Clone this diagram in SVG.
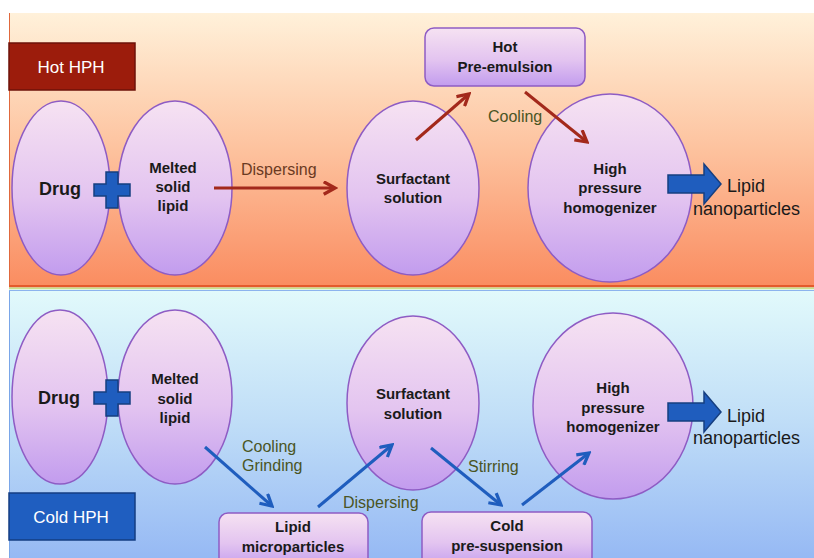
<svg xmlns="http://www.w3.org/2000/svg" width="814" height="558" viewBox="0 0 814 558">
<defs>
<linearGradient id="hotBg" x1="0" y1="0" x2="0" y2="1">
<stop offset="0" stop-color="#FFF1DA"/>
<stop offset="0.5" stop-color="#FDC29E"/>
<stop offset="1" stop-color="#FA8C60"/>
</linearGradient>
<linearGradient id="coldBg" x1="0" y1="0" x2="0" y2="1">
<stop offset="0" stop-color="#E2FAFB"/>
<stop offset="0.5" stop-color="#BFDDF7"/>
<stop offset="1" stop-color="#96B9F4"/>
</linearGradient>
<linearGradient id="nodeFill" x1="0" y1="0" x2="0" y2="1">
<stop offset="0" stop-color="#F6E2F2"/>
<stop offset="0.55" stop-color="#E3C4F0"/>
<stop offset="1" stop-color="#C29CEE"/>
</linearGradient>
<marker id="redHead" viewBox="0 0 12 12" refX="10" refY="6" markerWidth="5" markerHeight="5" orient="auto" markerUnits="strokeWidth">
<path d="M1,1 L10,6 L1,11" fill="none" stroke="#A3291B" stroke-width="2.6" stroke-linejoin="miter"/>
</marker>
<marker id="blueHead" viewBox="0 0 12 12" refX="10" refY="6" markerWidth="5" markerHeight="5" orient="auto" markerUnits="strokeWidth">
<path d="M1,1 L10,6 L1,11" fill="none" stroke="#1F5DBE" stroke-width="2.6" stroke-linejoin="miter"/>
</marker>
<path id="plusShape" d="M-6,-18 H6 V-6 H18 V6 H6 V18 H-6 V6 H-18 V-6 H-6 Z"/>
<path id="blockArrow" d="M0,-9 H36 V-20 L53,0 L36,20 V9 H0 Z"/>
</defs>
<style>
.node{fill:url(#nodeFill);stroke:#8E5CC4;stroke-width:1.5}
.nt{font-family:"Liberation Sans",Arial,sans-serif;font-weight:bold;font-size:15px;fill:#1A1A1A;text-anchor:middle}
.big{font-size:18px}
.el{font-family:"Liberation Sans",Arial,sans-serif;font-size:16px;fill:#4A5524}
.elh{fill:#6B3A22}
.red{stroke:#A3291B;stroke-width:3;fill:none;marker-end:url(#redHead)}
.blue{stroke:#1F5DBE;stroke-width:3;fill:none;marker-end:url(#blueHead)}
.plus{fill:#1F5DBE;stroke:#163F80;stroke-width:1.5}
.barrow{fill:#1F5DBE;stroke:#163F80;stroke-width:1.5}
.out{font-family:"Liberation Sans",Arial,sans-serif;font-size:18px;fill:#1A1A1A}
.tag{font-family:"Liberation Sans",Arial,sans-serif;font-size:17px;fill:#FFFFFF}
</style>
<rect x="0" y="0" width="814" height="558" fill="#FFFFFF"/>
<g id="panel-hot">
<rect x="9" y="13" width="805" height="274" fill="url(#hotBg)"/>
<line x1="9.5" y1="13" x2="9.5" y2="287" stroke="#E0683C" stroke-width="1"/>
<rect x="9" y="285" width="805" height="2.5" fill="#E45A2C"/>
<rect x="9" y="287.5" width="805" height="2" fill="#C9E08A"/>
</g>
<g id="panel-cold">
<rect x="9" y="289.5" width="805" height="268.5" fill="url(#coldBg)"/>
<line x1="9.5" y1="290" x2="9.5" y2="558" stroke="#7AA6E8" stroke-width="1"/>
<line x1="9" y1="290.5" x2="814" y2="290.5" stroke="#8CB4EE" stroke-width="1"/>
</g>
<g id="label-hot">
<rect x="9" y="43" width="126" height="47" fill="#9C1C0C" stroke="#6E1208" stroke-width="1.5"/>
<text class="tag" x="71" y="73" text-anchor="middle">Hot HPH</text>
</g>
<g id="label-cold">
<rect x="9" y="493" width="126" height="47" fill="#1F5EC0" stroke="#143E82" stroke-width="1.5"/>
<text class="tag" x="71" y="523" text-anchor="middle">Cold HPH</text>
</g>
<g id="hot-drug">
<ellipse class="node" cx="61" cy="188" rx="49" ry="87"/>
<text class="nt big" x="60" y="195">Drug</text>
</g>
<g id="hot-lipid">
<ellipse class="node" cx="175" cy="188" rx="57" ry="87"/>
<text class="nt" x="173" y="173">Melted</text>
<text class="nt" x="173" y="192">solid</text>
<text class="nt" x="173" y="211">lipid</text>
</g>
<g id="hot-plus">
<use href="#plusShape" class="plus" x="112" y="190"/>
</g>
<g id="hot-surfactant">
<ellipse class="node" cx="413" cy="188" rx="66" ry="87"/>
<text class="nt" x="413" y="184">Surfactant</text>
<text class="nt" x="413" y="203">solution</text>
</g>
<g id="hot-preemulsion">
<rect class="node" x="425" y="28" width="160" height="58" rx="9"/>
<text class="nt" x="505" y="52">Hot</text>
<text class="nt" x="505" y="72">Pre-emulsion</text>
</g>
<g id="hot-hph">
<ellipse class="node" cx="610" cy="188" rx="82" ry="94"/>
<text class="nt" x="610" y="174">High</text>
<text class="nt" x="610" y="193">pressure</text>
<text class="nt" x="610" y="213">homogenizer</text>
</g>
<g id="hot-output">
<use href="#blockArrow" class="barrow" x="668" y="184"/>
<text class="out" x="727" y="192">Lipid</text>
<text class="out" x="693" y="215">nanoparticles</text>
</g>
<g id="cold-drug">
<ellipse class="node" cx="60" cy="397" rx="48" ry="87"/>
<text class="nt big" x="59" y="404">Drug</text>
</g>
<g id="cold-lipid">
<ellipse class="node" cx="175" cy="397" rx="57" ry="87"/>
<text class="nt" x="175" y="384">Melted</text>
<text class="nt" x="175" y="404">solid</text>
<text class="nt" x="175" y="423">lipid</text>
</g>
<g id="cold-plus">
<use href="#plusShape" class="plus" x="112" y="398"/>
</g>
<g id="cold-microparticles">
<rect class="node" x="219" y="513" width="149" height="55" rx="9"/>
<text class="nt" x="293" y="532">Lipid</text>
<text class="nt" x="293" y="552">microparticles</text>
</g>
<g id="cold-surfactant">
<ellipse class="node" cx="413" cy="403" rx="66" ry="87"/>
<text class="nt" x="413" y="399">Surfactant</text>
<text class="nt" x="413" y="419">solution</text>
</g>
<g id="cold-presuspension">
<rect class="node" x="422" y="512" width="170" height="56" rx="9"/>
<text class="nt" x="507" y="531">Cold</text>
<text class="nt" x="507" y="551">pre-suspension</text>
</g>
<g id="cold-hph">
<ellipse class="node" cx="613" cy="406" rx="80" ry="93"/>
<text class="nt" x="613" y="393">High</text>
<text class="nt" x="613" y="413">pressure</text>
<text class="nt" x="613" y="432">homogenizer</text>
</g>
<g id="cold-output">
<use href="#blockArrow" class="barrow" x="668" y="412"/>
<text class="out" x="727" y="422">Lipid</text>
<text class="out" x="693" y="444">nanoparticles</text>
</g>
<g id="connectors">
<line class="red" x1="214" y1="188" x2="335" y2="188"/>
<line class="red" x1="416" y1="140" x2="469" y2="94"/>
<line class="red" x1="525" y1="92" x2="587" y2="142"/>
<line class="blue" x1="205" y1="447" x2="272" y2="506"/>
<line class="blue" x1="318" y1="507" x2="392" y2="445"/>
<line class="blue" x1="431" y1="448" x2="501" y2="505"/>
<line class="blue" x1="522" y1="505" x2="589" y2="453"/>
<text class="el elh" x="241" y="175">Dispersing</text>
<text class="el" x="488" y="122">Cooling</text>
<text class="el" x="242" y="452">Cooling</text>
<text class="el" x="242" y="471">Grinding</text>
<text class="el" x="343" y="508">Dispersing</text>
<text class="el" x="468" y="472">Stirring</text>
</g>
</svg>
